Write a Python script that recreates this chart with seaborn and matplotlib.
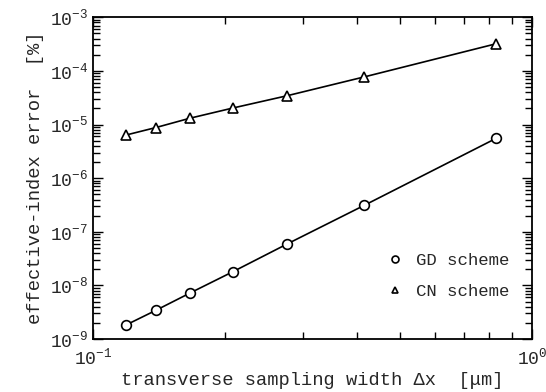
import numpy as np
import pandas as pd
import matplotlib
matplotlib.use("Agg")
import matplotlib.pyplot as plt
from matplotlib.lines import Line2D
from matplotlib.ticker import FixedLocator, NullFormatter
import seaborn as sns

# data
dx = [0.119, 0.139, 0.166, 0.208, 0.277, 0.415, 0.83]
gd_err = [1.85e-9, 3.45e-9, 7.2e-9, 1.8e-8, 5.96e-8, 3.12e-7, 5.55e-6]
cn_err = [6.4e-6, 8.8e-6, 1.31e-5, 2.03e-5, 3.45e-5, 7.73e-5, 3.21e-4]
series = ["GD scheme", "CN scheme"]
x_ticks = [0.1, 1.0]
y_ticks = [1e-9, 1e-8, 1e-7, 1e-6, 1e-5, 1e-4, 1e-3]
x_label = "transverse sampling width \u0394x  [\u03bcm]"
y_label = "effective-index error  [%]"

df = pd.DataFrame({
    "dx": dx + dx,
    "err": gd_err + cn_err,
    "scheme": [series[0]] * len(dx) + [series[1]] * len(dx),
})

sns.set_style("ticks")
plt.rcParams["font.family"] = ["Liberation Mono", "DejaVu Sans"]
plt.rcParams["mathtext.fontset"] = "custom"
plt.rcParams["mathtext.rm"] = "Liberation Mono"

fig = plt.figure(figsize=(5.46, 3.92), dpi=100)
ax = fig.add_axes([0.171, 0.135, 0.803, 0.821])

sns.lineplot(data=df, x="dx", y="err", hue="scheme", style="scheme",
             palette={series[0]: "black", series[1]: "black"},
             markers={series[0]: "o", series[1]: "^"}, dashes=False,
             markersize=7, markerfacecolor="white", markeredgecolor="black",
             markeredgewidth=1.2, linewidth=1.2, ax=ax, legend=False)

ax.set_xscale("log")
ax.set_yscale("log")
ax.set_xlim(x_ticks[0], x_ticks[-1])
ax.set_ylim(y_ticks[0], y_ticks[-1])

x_minor = [m * 0.1 for m in range(2, 10)]
y_minor = [m * d for d in y_ticks[:-1] for m in range(2, 10)]
ax.xaxis.set_major_locator(FixedLocator(x_ticks))
ax.xaxis.set_minor_locator(FixedLocator(x_minor))
ax.xaxis.set_minor_formatter(NullFormatter())
ax.yaxis.set_major_locator(FixedLocator(y_ticks))
ax.yaxis.set_minor_locator(FixedLocator(y_minor))
ax.yaxis.set_minor_formatter(NullFormatter())

ax.tick_params(which="both", direction="in", top=True, right=True, color="black",
               width=1.0)
ax.tick_params(which="major", length=7, labelsize=13)
ax.tick_params(axis="x", which="major", pad=6)
ax.tick_params(axis="y", which="major", pad=4)
ax.tick_params(which="minor", length=5)
for s in ax.spines.values():
    s.set_linewidth(1.3)
    s.set_color("black")

ax.set_xlabel(x_label, fontsize=13.5, labelpad=3)
ax.set_ylabel(y_label, fontsize=13.5, labelpad=4)

handles = [
    Line2D([], [], linestyle="none", marker="o", markersize=5,
           markerfacecolor="white", markeredgecolor="black", markeredgewidth=1.2),
    Line2D([], [], linestyle="none", marker="^", markersize=5,
           markerfacecolor="white", markeredgecolor="black", markeredgewidth=1.2),
]
ax.legend(handles, series, loc="lower right", frameon=False, fontsize=12.5,
          handletextpad=0.6, labelspacing=0.95, bbox_to_anchor=(0.985, 0.075),
          handlelength=1.2)

fig.savefig("out.png", dpi=100)
